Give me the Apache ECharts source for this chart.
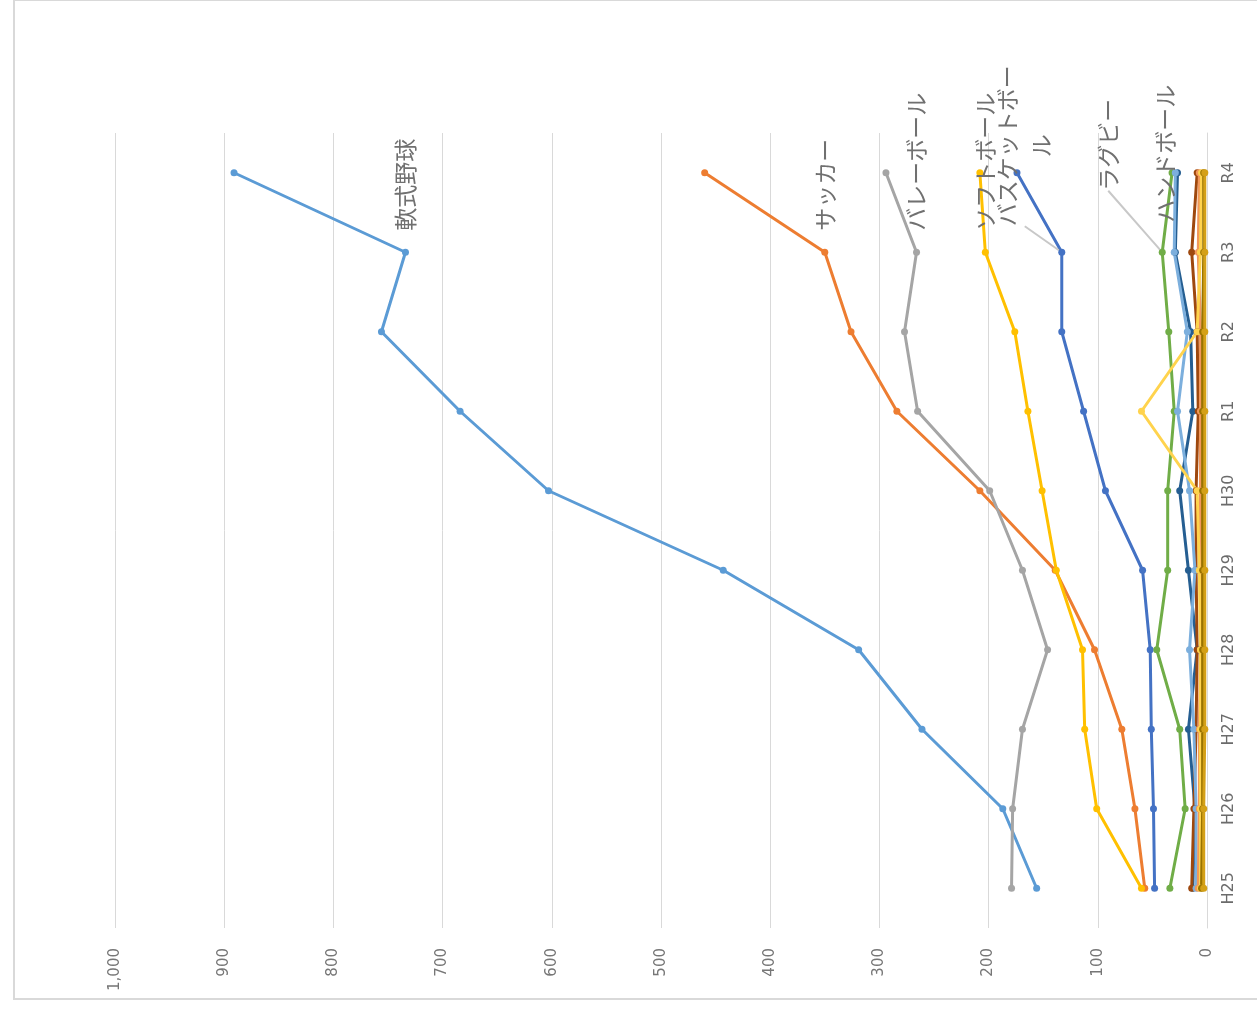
<!DOCTYPE html>
<html>
<head>
<meta charset="utf-8">
<script src="https://cdn.jsdelivr.net/npm/echarts@6/dist/echarts.min.js"></script>
<style>
  html, body { margin: 0; padding: 0; background: #fff; }
  #frame { position: absolute; left: 13px; top: -1px; width: 1260px; height: 1001px;
           border: 2px solid #d9d9d9; border-right: none; box-sizing: border-box; }
  #chart { position: absolute; left: 0; top: 0; width: 1257px; height: 1017px; }
</style>
</head>
<body>
<div id="frame"></div>
<div id="chart"></div>
<script>
// Fiscal years (Heisei 25 .. Reiwa 4)
const categories = ['H25', 'H26', 'H27', 'H28', 'H29', 'H30', 'R1', 'R2', 'R3', 'R4'];

// Counts per sport
const nanshikiYakyu  = [156, 187, 261, 319, 443, 603, 684, 756, 734, 891];
const soccer         = [57, 66, 78, 103, 139, 208, 284, 326, 350, 460];
const volleyball     = [179, 178, 169, 146, 169, 199, 265, 277, 266, 294];
const softball       = [60, 101, 112, 114, 138, 151, 164, 176, 203, 208];
const basketball     = [48, 49, 51, 52, 59, 93, 113, 133, 133, 174];
const rugby          = [34, 20, 25, 46, 36, 36, 30, 35, 41, 32];
const handball       = [13, 11, 17, 9, 17, 25, 13, 15, 29, 27];
const tableTennis    = [14, 12, 10, 9, 10, 10, 8, 9, 14, 9];
const badminton      = [10, 10, 12, 16, 11, 16, 27, 18, 30, 29];
const tennis         = [8, 7, 7, 6, 6, 6, 6, 6, 8, 7];
const athletics      = [6, 6, 6, 6, 7, 9, 60, 9, 6, 5];
const kendo          = [5, 4, 4, 4, 4, 4, 4, 4, 3, 3];
const judo           = [3, 3, 2, 2, 2, 2, 2, 2, 2, 2];

// Value axis ticks
const valueMin = 0, valueMax = 1000, valueStep = 100;

const labelFont = 'Noto Sans CJK JP';
const labelColor = '#707070';
const R3 = categories.indexOf('R3');

// Series-name label shown beside the R3 point, written vertically (rotated 90°)
function nameLabel(text, extra) {
  return Object.assign({
    show: true,
    formatter: text,
    rotate: 90,
    position: 'top',
    distance: 18,
    align: 'left',
    verticalAlign: 'middle',
    fontFamily: labelFont,
    fontSize: 23,
    color: labelColor
  }, extra || {});
}

// Screen-space shift for a rotated label: dx/dy of labelLayout act in the
// label's own (rotated) frame, so swap them accordingly.
function shift(screenDx, screenDy) {
  return { dx: -screenDy, dy: screenDx };
}

function makeSeries(name, values, color, label, extra) {
  const data = values.map((v, i) =>
    (label && i === R3) ? { value: v, label: label } : v);
  return Object.assign({
    name: name,
    type: 'line',
    data: data,
    symbol: 'circle',
    symbolSize: 7,
    color: color,
    lineStyle: { width: 3, color: color },
    itemStyle: { color: color },
    label: { show: false },
    emphasis: { disabled: true },
    animation: false
  }, extra || {});
}

const leader = { show: true, lineStyle: { color: '#c8c8c8', width: 2 } };

const series = [
  makeSeries('軟式野球', nanshikiYakyu, '#5b9bd5', nameLabel('軟式野球')),
  makeSeries('サッカー', soccer, '#ed7d31', nameLabel('サッカー')),
  makeSeries('バレーボール', volleyball, '#a5a5a5', nameLabel('バレーボール')),
  makeSeries('ソフトボール', softball, '#ffc000', nameLabel('ソフトボール')),
  makeSeries('バスケットボール', basketball, '#4472c4',
    nameLabel('バスケットボー\nル', { distance: 0, align: 'center', lineHeight: 34 }),
    { labelLayout: shift(-37, -103), labelLine: leader }),
  makeSeries('ラグビー', rugby, '#70ad47',
    nameLabel('ラグビー', { distance: 0, align: 'center' }),
    { labelLayout: shift(-54, -104), labelLine: leader }),
  makeSeries('ハンドボール', handball, '#255e91',
    nameLabel('ハンドボール', { distance: 0, align: 'center' }),
    { labelLayout: shift(-10, -95) }),
  makeSeries('卓球', tableTennis, '#9e480e'),
  makeSeries('バドミントン', badminton, '#7cafdd'),
  makeSeries('テニス', tennis, '#f1975a'),
  makeSeries('陸上競技', athletics, '#ffd34d'),
  makeSeries('剣道', kendo, '#997300'),
  makeSeries('柔道', judo, '#d4a017')
];

const chart = echarts.init(document.getElementById('chart'), null, { renderer: 'canvas' });
chart.setOption({
  animation: false,
  backgroundColor: 'transparent',
  grid: { left: 115, right: 50, top: 133, bottom: 89, containLabel: false },
  xAxis: {
    type: 'value',
    inverse: true,
    position: 'bottom',
    min: valueMin,
    max: valueMax,
    interval: valueStep,
    axisLine: { show: false },
    axisTick: { show: false },
    splitLine: { show: true, lineStyle: { color: '#d9d9d9', width: 1 } },
    axisLabel: {
      rotate: 90,
      margin: 20,
      fontFamily: 'DejaVu Sans',
      fontSize: 15,
      color: '#767676',
      formatter: v => v.toLocaleString('en-US')
    }
  },
  yAxis: {
    type: 'category',
    position: 'right',
    data: categories,
    boundaryGap: true,
    axisLine: { show: true, lineStyle: { color: '#d9d9d9', width: 1 } },
    axisTick: { show: false },
    splitLine: { show: false },
    axisLabel: {
      rotate: 90,
      margin: 14,
      fontFamily: 'DejaVu Sans',
      fontSize: 16,
      color: '#6b6b6b'
    }
  },
  series: series
});
</script>
</body>
</html>
